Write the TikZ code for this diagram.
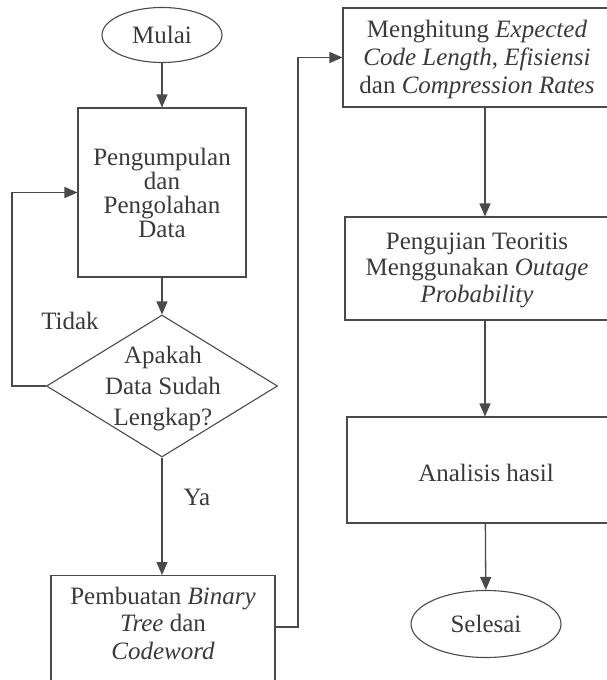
\documentclass[tikz,border=0pt]{standalone}
\usepackage{fontspec}
\setmainfont{Liberation Serif}
\usetikzlibrary{shapes.geometric,arrows.meta}
\definecolor{ln}{HTML}{4A4A4A}
\definecolor{tx}{HTML}{3A3A3A}
\tikzset{
  box/.style={draw=ln, line width=1.1pt, rectangle, inner sep=0pt},
  oval/.style={draw=ln, line width=1.1pt, ellipse, inner sep=0pt},
  dia/.style={draw=ln, line width=1.1pt, diamond, inner sep=0pt},
  txt/.style={text=tx, align=center, font=\fontsize{25}{28}\selectfont, inner sep=0pt},
  arr/.style={draw=ln, line width=1.3pt, -{Triangle[length=13pt,width=11pt]}},
  con/.style={draw=ln, line width=1.3pt}
}
\begin{document}
\begin{tikzpicture}[x=1pt,y=-1pt]
\useasboundingbox (0,0) rectangle (607,680);
\clip (0,0) rectangle (607,680);
\fill[white] (0,0) rectangle (607,680);
% left column
\node[oval, minimum width=120pt, minimum height=55pt] (mulai) at (162,35) {};
\node[txt] (mulaiT) at (mulai) {Mulai};
\node[box, minimum width=168pt, minimum height=169pt] (b1) at (162,192.5) {};
\node[txt, font=\fontsize{25}{24}\selectfont] (b1T) at (b1) {Pengumpulan\\dan\\Pengolahan\\Data};
\node[dia, minimum width=231pt, minimum height=142pt] (d) at (162,386) {};
\node[txt, font=\fontsize{25}{31}\selectfont] (dT) at (163,389) {Apakah\\Data Sudah\\Lengkap?};
\node[txt] (tidak) at (70,321) {Tidak};
\node[txt] (ya) at (197,497) {Ya};
\node[box, minimum width=224pt, minimum height=140pt, anchor=north] (b2) at (163,575) {};
\node[txt, font=\fontsize{25}{27.5}\selectfont] (b2T) at (163,623) {Pembuatan \textit{Binary}\\\textit{Tree} dan\\\textit{Codeword}};
% right column
\node[box, minimum width=284pt, minimum height=99pt] (b3) at (485,57.5) {};
\node[txt] (b3T) at (477,59) {Menghitung \textit{Expected}\\\textit{Code Length}, \textit{Efisiensi}\\dan \textit{Compression Rates}};
\node[box, minimum width=280pt, minimum height=103pt] (b4) at (485,268.5) {};
\node[txt, font=\fontsize{25}{26.5}\selectfont] (b4T) at (477,270) {Pengujian Teoritis\\Menggunakan \textit{Outage}\\\textit{Probability}};
\node[box, minimum width=276pt, minimum height=106pt] (b5) at (485,470) {};
\node[txt] (b5T) at (486,473) {Analisis hasil};
\node[oval, minimum width=150pt, minimum height=67pt] (sel) at (486,624) {};
\node[txt] (selT) at (sel) {Selesai};
% connectors
\draw[arr] (mulai) -- (b1);
\draw[arr] (b1) -- (d.north);
\draw[arr] (d.west) -- ++(-34,0) |- (b1.west);
\draw[arr] (d.south) -- (b2.north -| d.south);
\coordinate (j) at (298,627);
\draw[arr] (b2.east |- j) -- (j) |- (b3.west);
\draw[arr] (b3) -- (b4);
\draw[arr] (b4) -- (b5);
\draw[arr] (b5) -- (sel);
\end{tikzpicture}
\end{document}
